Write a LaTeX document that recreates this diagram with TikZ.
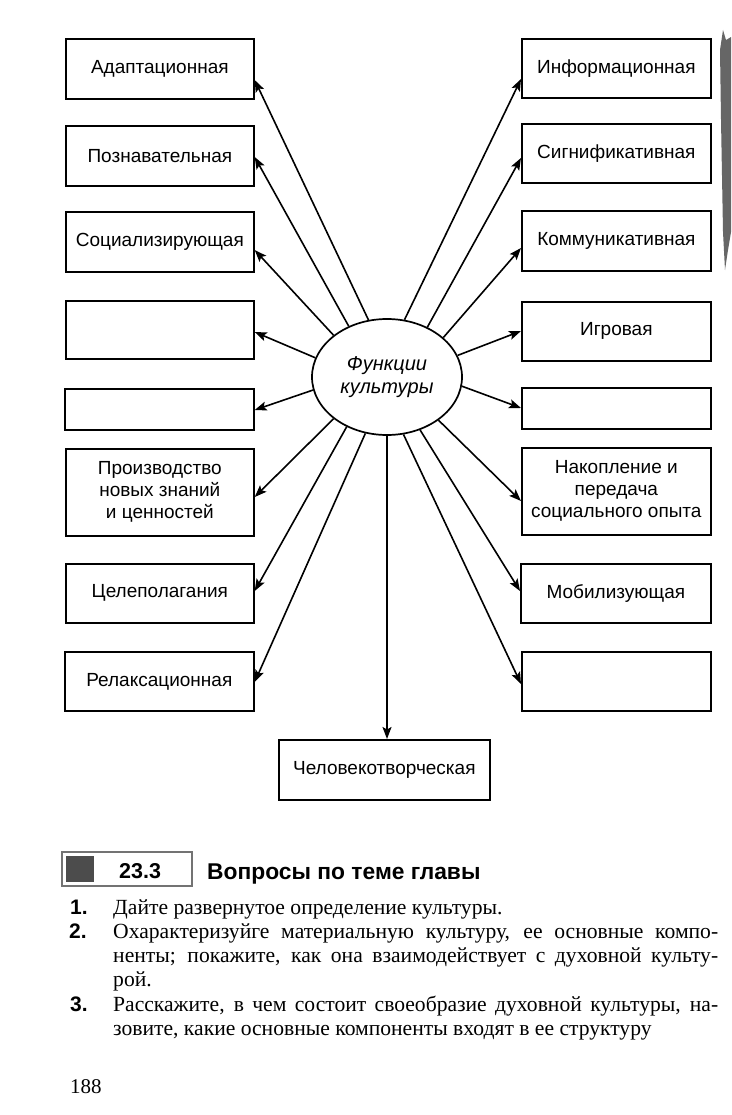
\documentclass[tikz,border=0pt]{standalone}
\usepackage{fontspec}
\setmainfont{Liberation Serif}
\setsansfont{Liberation Sans}
\usetikzlibrary{shapes.geometric,arrows.meta}
\begin{document}
\begin{tikzpicture}[x=1pt,y=-1pt,
  box/.style={draw,line width=1.7pt,inner sep=0pt,anchor=north west,
    font=\sffamily\fontsize{19}{22}\selectfont,align=center},
  arr/.style={line width=1.6pt,-{Stealth[length=12pt,width=9pt,inset=2.5pt]}},
  bodytxt/.style={anchor=base west,inner sep=0pt,font=\rmfamily\fontsize{21.6}{24}\selectfont},
  numtxt/.style={anchor=base west,inner sep=0pt,font=\sffamily\bfseries\fontsize{21}{24}\selectfont},
]
\useasboundingbox[fill=white] (0,0) rectangle (731,1115);

% left column
\node[box,minimum width=188pt,minimum height=60pt] (adapt) at (65,38) {Адаптационная};
\node[box,minimum width=188pt,minimum height=60pt] (pozn) at (65,125) {Познавательная};
\node[box,minimum width=188pt,minimum height=60pt] (soc) at (65,211) {Социализирующая};
\node[box,minimum width=188pt,minimum height=58pt] (eL1) at (65,300) {};
\node[box,minimum width=189pt,minimum height=41pt] (eL2) at (64,388) {};
\node[box,minimum width=188pt,minimum height=87pt] (proizv) at (65,448) {Производство\\новых знаний\\и ценностей};
\node[box,minimum width=188pt,minimum height=59pt] (cel) at (65,563) {Целеполагания};
\node[box,minimum width=189pt,minimum height=59pt] (relax) at (64,651) {Релаксационная};

% right column
\node[box,minimum width=189pt,minimum height=59pt] (info) at (521,38) {Информационная};
\node[box,minimum width=189pt,minimum height=59pt] (sign) at (521,123) {Сигнификативная};
\node[box,minimum width=189pt,minimum height=60pt] (komm) at (521,210) {Коммуникативная};
\node[box,minimum width=189pt,minimum height=59pt] (igr) at (521,301) {Игровая};
\node[box,minimum width=189pt,minimum height=41pt] (eR1) at (521,387) {};
\node[box,minimum width=189pt,minimum height=87pt] (nakop) at (521,447) {Накопление и\\передача\\социального опыта};
\node[box,minimum width=190pt,minimum height=59pt] (mob) at (520,563) {Мобилизующая};
\node[box,minimum width=189pt,minimum height=59pt] (eR2) at (521,651) {};

% bottom
\node[box,minimum width=211pt,minimum height=60pt] (chel) at (278,739) {Человекотворческая};

% centre
\node[draw,ellipse,line width=1.7pt,minimum width=150pt,minimum height=116pt,inner sep=0pt,
  font=\sffamily\itshape\fontsize{20}{23}\selectfont,align=center] (ell) at (387,377) {Функции\\культуры};

% connectors
\draw[arr] (ell.108) -- (adapt.east |- {(0,80)});
\draw[arr] (ell.127) -- (pozn.east |- {(0,157)});
\draw[arr] (ell.142.6) -- (soc.east |- {(0,250)});
\draw[arr] (ell.165) -- (eL1.east |- {(0,332)});
\draw[arr] (ell.190) -- (eL2.east |- {(0,410)});
\draw[arr] (ell.218) -- (proizv.east |- {(0,497)});
\draw[arr] (ell.231) -- (cel.east |- {(0,591)});
\draw[arr] (ell.249) -- (relax.east |- {(0,682)});
\draw[arr] (ell.270) -- (ell.south |- chel.north);
\draw[arr] (ell.286) -- (eR2.west |- {(0,684)});
\draw[arr] (ell.302) -- (mob.west |- {(0,591)});
\draw[arr] (ell.320) -- (nakop.west |- {(0,501)});
\draw[arr] (ell.353) -- (eR1.west |- {(0,408)});
\draw[arr] (ell.17) -- (igr.west |- {(0,331)});
\draw[arr] (ell.35) -- (komm.west |- {(0,248)});
\draw[arr] (ell.51) -- (sign.west |- {(0,158)});
\draw[arr] (ell.73) -- (info.west |- {(0,79)});

% scan edge artifact
\fill[black!60] (723,30) -- (726,40) -- (731,37) -- (731,232) -- (728,250) -- (725,270)
  -- (723,232) -- (721,120) -- (720,50) -- cycle;

% section header
\draw[black!55,line width=1.5pt] (62,852) rectangle (192,886);
\fill[black!70] (66,856) rectangle (94,882);
\node[anchor=base west,inner sep=0pt,font=\sffamily\bfseries\fontsize{21.5}{24}\selectfont] (num) at (119,878) {23.3};
\node[anchor=base west,inner sep=0pt,font=\sffamily\bfseries\fontsize{22.8}{24}\selectfont] (title) at (207,879) {Вопросы по теме главы};

% questions
\node[numtxt] (n1) at (70,914) {1.};
\node[bodytxt] (q1) at (113,914) {Дайте развернутое определение культуры.};
\node[numtxt] (n2) at (69,938) {2.};
\node[bodytxt] (q2a) at (113,938) {\makebox[605pt][s]{Охарактеризуйге материальную культуру, ее основные компо-}};
\node[bodytxt] (q2b) at (113,962) {\makebox[605pt][s]{ненты; покажите, как она взаимодействует с духовной культу-}};
\node[bodytxt] (q2c) at (113,986) {рой.};
\node[numtxt] (n3) at (70,1011) {3.};
\node[bodytxt] (q3a) at (113,1011) {\makebox[605pt][s]{Расскажите, в чем состоит своеобразие духовной культуры, на-}};
\node[bodytxt] (q3b) at (113,1035) {зовите, какие основные компоненты входят в ее структуру};

% page number
\node[bodytxt,font=\rmfamily\fontsize{21}{24}\selectfont] (page) at (70,1093) {188};
\end{tikzpicture}
\end{document}
